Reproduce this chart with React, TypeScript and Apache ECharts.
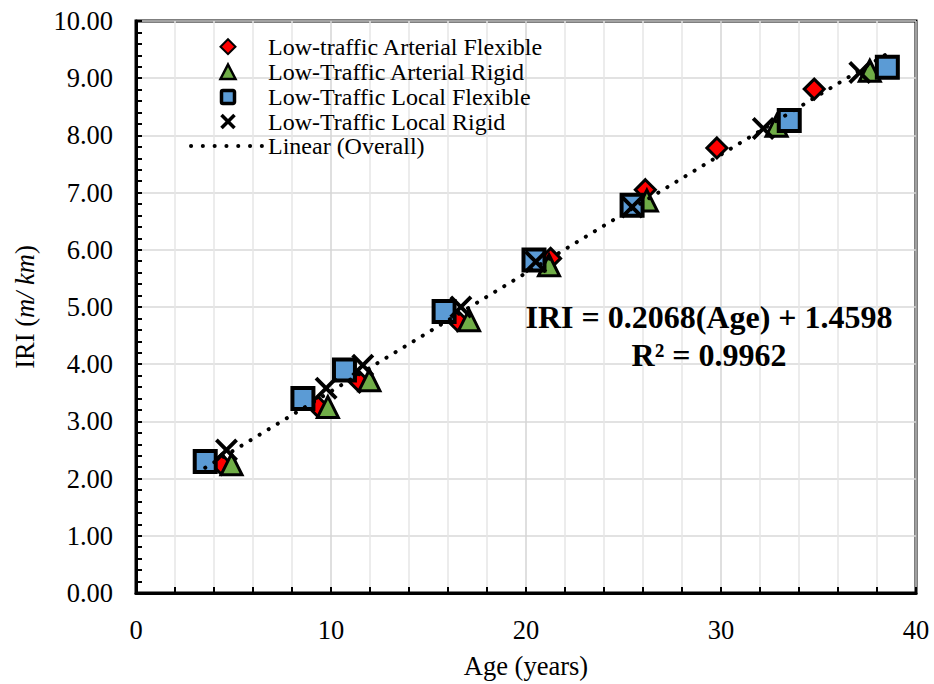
import React, { useEffect, useRef } from "react";
import * as echarts from "echarts";

const FONT = '"Liberation Serif", "Times New Roman", serif';

const seriesNames = [
  "Low-traffic Arterial Flexible",
  "Low-Traffic Arterial Rigid",
  "Low-Traffic Local Flexible",
  "Low-Traffic Local Rigid",
  "Linear (Overall)",
];

const afAge = [4.38, 9.33, 11.46, 16.49, 21.26, 26.12, 29.79, 34.78];
const afIRI = [2.25, 3.26, 3.69, 4.76, 5.85, 7.05, 7.78, 8.81];

const arAge = [4.9, 9.84, 11.97, 17.08, 21.18, 26.2, 32.85, 37.63];
const arIRI = [2.25, 3.25, 3.72, 4.77, 5.73, 6.86, 8.17, 9.13];

const lfAge = [3.55, 8.56, 10.69, 15.8, 20.41, 25.44, 33.5, 38.53];
const lfIRI = [2.3, 3.4, 3.9, 4.92, 5.82, 6.78, 8.26, 9.19];

const lrAge = [4.64, 9.75, 11.63, 16.66, 20.5, 25.44, 32.17, 37.12];
const lrIRI = [2.5, 3.58, 3.98, 5.0, 5.79, 6.75, 8.12, 9.1];

const trendAge = [3.55, 38.53];
const trendIRI = [2.19, 9.43];

const equationLines = ["IRI = 0.2068(Age) + 1.4598", "R² = 0.9962"];

const X_SYMBOL =
  "path://M0,2.4L2.4,0L10,7.6L17.6,0L20,2.4L12.4,10L20,17.6L17.6,20L10,12.4L2.4,20L0,17.6L7.6,10Z";

const zip = (xs: number[], ys: number[]) => xs.map((x, i) => [x, ys[i]]);

function legendGraphics() {
  const cx = 228;
  const rows = [46.7, 72, 97, 121.5, 146];
  const textX = 268;
  const els: any[] = [];
  const h = 7.5;
  els.push({
    type: "polygon",
    shape: { points: [[cx, rows[0] - h], [cx + h, rows[0]], [cx, rows[0] + h], [cx - h, rows[0]]] },
    style: { fill: "#ff0000", stroke: "#000", lineWidth: 2 },
  });
  els.push({
    type: "polygon",
    shape: { points: [[cx, rows[1] - 7.5], [cx + 7.5, rows[1] + 7], [cx - 7.5, rows[1] + 7]] },
    style: { fill: "#70ad47", stroke: "#000", lineWidth: 2.5 },
  });
  els.push({
    type: "rect",
    shape: { x: cx - 6.5, y: rows[2] - 6.5, width: 13, height: 13, r: 1.5 },
    style: { fill: "#5b9bd5", stroke: "#000", lineWidth: 3.5 },
  });
  els.push({
    type: "line",
    shape: { x1: cx - 6.5, y1: rows[3] - 6.5, x2: cx + 6.5, y2: rows[3] + 6.5 },
    style: { stroke: "#000", lineWidth: 3.5 },
  });
  els.push({
    type: "line",
    shape: { x1: cx + 6.5, y1: rows[3] - 6.5, x2: cx - 6.5, y2: rows[3] + 6.5 },
    style: { stroke: "#000", lineWidth: 3.5 },
  });
  els.push({
    type: "line",
    shape: { x1: 191, y1: rows[4], x2: 262, y2: rows[4] },
    style: { stroke: "#000", lineWidth: 4, lineDash: [0.1, 11.7], lineCap: "round" },
  });
  seriesNames.forEach((name, i) => {
    els.push({
      type: "text",
      x: textX,
      y: rows[i],
      style: {
        text: name,
        fill: "#000",
        font: `24px ${FONT}`,
        align: "left",
        verticalAlign: "middle",
      },
    });
  });
  return els.map((e) => ({ ...e, z: 20 }));
}

export default function App() {
  const ref = useRef<HTMLDivElement>(null);
  useEffect(() => {
    if (!ref.current) return;
    const chart = echarts.init(ref.current, null, { renderer: "svg" });
    const axisCommon = {
      type: "value",
      nameLocation: "middle",
      axisLine: { show: true, onZero: false, lineStyle: { color: "#000", width: 3 } },
      axisTick: { show: true, inside: true, length: 6, lineStyle: { color: "#000", width: 2 } },
      minorTick: { show: true, splitNumber: 5, length: 6, lineStyle: { color: "#000", width: 2 } },
      axisLabel: { fontSize: 26.5, color: "#000", fontFamily: FONT, margin: 23 },
      nameTextStyle: { fontSize: 26.5, color: "#000", fontFamily: FONT },
    };
    const option: any = {
      animation: false,
      textStyle: { fontFamily: FONT },
      grid: {
        left: 136,
        right: 18,
        top: 21,
        bottom: 88,
        show: true,
        borderColor: "#000",
        borderWidth: 3,
        backgroundColor: "transparent",
      },
      xAxis: {
        ...axisCommon,
        min: 0,
        max: 40,
        interval: 10,
        name: "Age (years)",
        nameGap: 59,
        splitLine: { show: true, lineStyle: { color: "#d4d4d4", width: 1.5 } },
        minorSplitLine: { show: true, lineStyle: { color: "#e6e6e6", width: 1.5 } },
      },
      yAxis: {
        ...axisCommon,
        min: 0,
        max: 10,
        interval: 1,
        name: "{a|IRI (}{b|m/ km}{a|)}",
        nameGap: 98,
        nameTextStyle: {
          fontSize: 26.5,
          color: "#000",
          rich: {
            a: { fontSize: 26.5, fontFamily: FONT, color: "#000" },
            b: { fontSize: 26.5, fontFamily: FONT, color: "#000", fontStyle: "italic" },
          },
        },
        axisLabel: {
          ...axisCommon.axisLabel,
          formatter: (v: number) => v.toFixed(2),
        },
        splitLine: { show: true, lineStyle: { color: "#d9d9d9", width: 1.5 } },
        minorSplitLine: { show: false },
      },
      series: [
        {
          name: seriesNames[0],
          type: "scatter",
          symbol: "diamond",
          symbolSize: 20,
          itemStyle: { color: "#ff0000", borderColor: "#000", borderWidth: 3, opacity: 1 },
          data: zip(afAge, afIRI),
        },
        {
          name: seriesNames[1],
          type: "scatter",
          symbol: "triangle",
          symbolSize: 21,
          itemStyle: { color: "#70ad47", borderColor: "#000", borderWidth: 3, opacity: 1 },
          data: zip(arAge, arIRI),
        },
        {
          name: seriesNames[2],
          type: "scatter",
          symbol: "rect",
          symbolSize: 21,
          itemStyle: { color: "#5b9bd5", borderColor: "#000", borderWidth: 4, opacity: 1 },
          data: zip(lfAge, lfIRI),
        },
        {
          name: seriesNames[3],
          type: "scatter",
          symbol: X_SYMBOL,
          symbolSize: 23,
          itemStyle: { color: "#000", borderWidth: 0, opacity: 1 },
          data: zip(lrAge, lrIRI),
        },
        {
          name: seriesNames[4],
          type: "line",
          symbol: "none",
          z: 5,
          lineStyle: { color: "#000", width: 4, type: [0.1, 10.5], cap: "round" },
          itemStyle: { color: "#000" },
          data: zip(trendAge, trendIRI),
        },
      ],
      graphic: [
        ...legendGraphics(),
        {
          type: "text",
          x: 709,
          y: 317,
          z: 10,
          style: {
            text: equationLines[0],
            fill: "#000",
            font: `bold 32px ${FONT}`,
            align: "center",
            verticalAlign: "middle",
          },
        },
        {
          type: "text",
          x: 709,
          y: 355,
          z: 10,
          style: {
            text: equationLines[1],
            fill: "#000",
            font: `bold 32px ${FONT}`,
            align: "center",
            verticalAlign: "middle",
          },
        },
      ],
    };
    chart.setOption(option);
    return () => chart.dispose();
  }, []);
  return (
    <div
      ref={ref}
      style={{ position: "fixed", left: 0, top: 0, width: 934, height: 684, background: "#fff" }}
    />
  );
}
